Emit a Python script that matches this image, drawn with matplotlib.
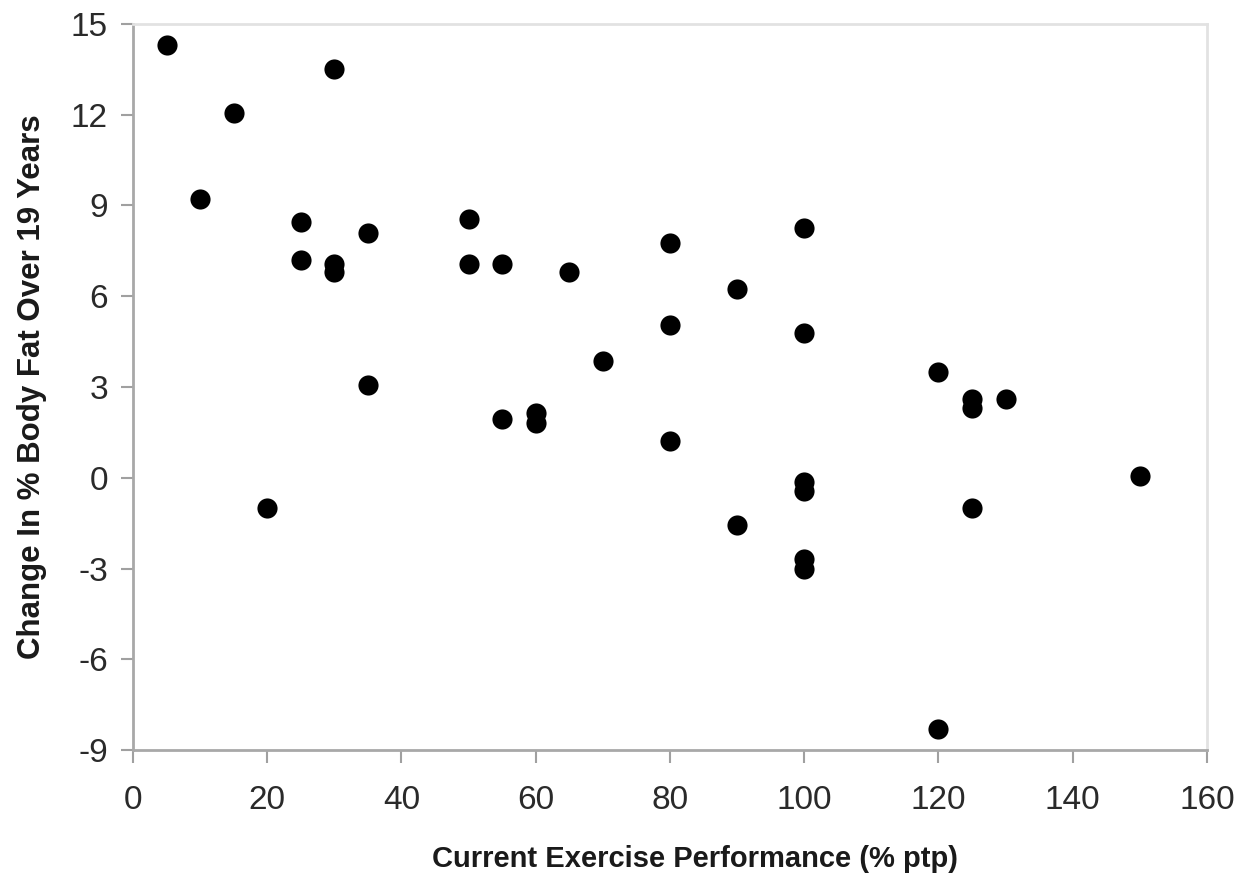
import matplotlib.pyplot as plt
import numpy as np

plt.rcParams['font.family'] = ['Liberation Sans', 'DejaVu Sans']
plt.rcParams['axes.unicode_minus'] = False

# exercise performance (% ptp) vs change in % body fat
exercise = [5, 10, 15, 20, 25, 25, 30, 30, 30, 35, 35,
            50, 50, 55, 55, 60, 60, 65, 70,
            80, 80, 80, 90, 90,
            100, 100, 100, 100, 100, 100,
            120, 120, 125, 125, 125, 130, 150]
body_fat = [14.3, 9.2, 12.05, -1.0, 8.45, 7.2, 13.5, 7.05, 6.8, 8.1, 3.05,
            8.55, 7.05, 7.05, 1.95, 2.15, 1.8, 6.8, 3.85,
            7.75, 5.05, 1.2, 6.25, -1.55,
            8.25, 4.8, -0.15, -0.45, -2.7, -3.0,
            3.5, -8.3, 2.6, 2.3, -1.0, 2.6, 0.05]
x_ticks = np.arange(0, 161, 20)
y_ticks = np.arange(-9, 16, 3)

fig = plt.figure(figsize=(12.59, 8.85), dpi=100)
ax = fig.add_axes([0.1056, 0.1525, 0.8531, 0.8204])

ax.plot(exercise, body_fat, 'o', color='black', markersize=14.5, markeredgewidth=0)

ax.set_xlim(0, 160)
ax.set_ylim(-9, 15)
ax.set_xticks(x_ticks)
ax.set_yticks(y_ticks)
ax.tick_params(axis='both', labelsize=24, colors='#a0a0a0', labelcolor='#2a2a2a',
               length=9, width=1.5, direction='out')
ax.tick_params(axis='x', pad=16)
ax.tick_params(axis='y', pad=9)

for side in ['left', 'bottom']:
    ax.spines[side].set_color('#a8a8a8')
    ax.spines[side].set_linewidth(2)
for side in ['top', 'right']:
    ax.spines[side].set_color('#e2e2e2')
    ax.spines[side].set_linewidth(2)

ax.set_xlabel('Current Exercise Performance (% ptp)', fontsize=21, fontweight='bold',
              color='#1a1a1a', labelpad=21)
ax.xaxis.label.set_x(0.523)
ax.set_ylabel('Change In % Body Fat Over 19 Years', fontsize=22.5, fontweight='bold',
              color='#1a1a1a', labelpad=17)

plt.savefig('out.png', dpi=100)
